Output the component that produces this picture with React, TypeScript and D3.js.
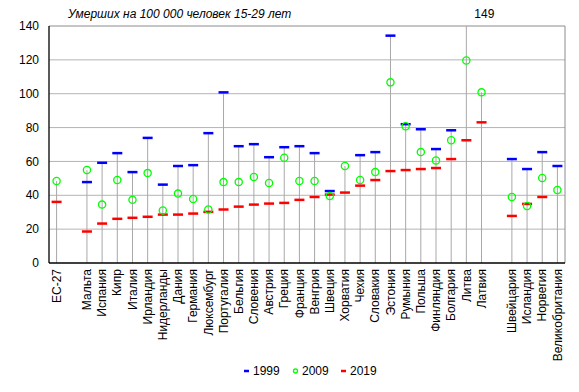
import React, { useRef, useEffect } from 'react';
import * as d3 from 'd3';

// категории (пустые слоты — разрывы между группами)
const categories = [
  'ЕС-27', '', 'Мальта', 'Испания', 'Кипр', 'Италия', 'Ирландия', 'Нидерланды', 'Дания',
  'Германия', 'Люксембург', 'Португалия', 'Бельгия', 'Словения', 'Австрия', 'Греция',
  'Франция', 'Венгрия', 'Швеция', 'Хорватия', 'Чехия', 'Словакия', 'Эстония', 'Румыния',
  'Польша', 'Финляндия', 'Болгария', 'Литва', 'Латвия', ' ', 'Швейцария', 'Исландия',
  'Норвегия', 'Великобритания',
];

const v1999 = [
  null, null, 47.8, 59.2, 64.9, 53.7, 73.9, 46.3, 57.3,
  57.8, 76.7, 100.8, 69.0, 70.2, 62.5, 68.4,
  69.0, 64.9, 42.5, null, 63.7, 65.5, 134.3, 82.0,
  79.0, 67.3, 78.4, 149, null, null, 61.4, 55.5,
  65.5, 57.3,
];

const v2009 = [
  48.4, null, 54.9, 34.5, 49.0, 37.3, 53.1, 31.0, 41.0,
  37.8, 31.6, 47.8, 47.8, 50.8, 47.3, 62.2,
  48.4, 48.4, 39.6, 57.3, 49.0, 53.7, 106.7, 80.8,
  65.5, 60.6, 72.5, 119.6, 100.8, null, 39.0, 33.7,
  50.2, 43.1,
];

const v2019 = [
  36.1, null, 18.6, 23.3, 26.1, 26.7, 27.3, 28.6, 28.6,
  29.2, 30.2, 31.6, 33.3, 34.5, 35.1, 35.5,
  37.3, 39.0, 40.4, 41.6, 45.7, 49.0, 54.3, 54.9,
  55.5, 56.1, 61.4, 72.5, 83.1, null, 27.8, 34.9,
  39.0, null,
];

const yTicks = [0, 20, 40, 60, 80, 100, 120, 140];

const font = 'Liberation Sans, Arial, sans-serif';

const App = () => {
  const svgRef = useRef(null);

  useEffect(() => {
    const svg = d3.select(svgRef.current);
    svg.selectAll('*').remove();

    const margin = { top: 26, right: 14, bottom: 129, left: 49 };
    const width = 579;
    const height = 392;

    const x = d3.scaleBand()
      .domain(categories)
      .range([margin.left, width - margin.right])
      .padding(0);

    const y = d3.scaleLinear()
      .domain([0, 140])
      .range([height - margin.bottom, margin.top]);

    const cx = (c) => x(c) + x.bandwidth() / 2;

    // сетка
    svg.append('g')
      .selectAll('line')
      .data(yTicks.slice(1, -1))
      .join('line')
      .attr('x1', margin.left)
      .attr('x2', width - margin.right)
      .attr('y1', d => y(d))
      .attr('y2', d => y(d))
      .attr('stroke', '#b4b4b4')
      .attr('stroke-width', 1);

    // рамка сверху и справа
    svg.append('path')
      .attr('d', `M${margin.left},${y(140)}H${width - margin.right}V${y(0)}`)
      .attr('fill', 'none')
      .attr('stroke', '#8c8c8c');

    const rows = categories.map((c, i) => ({
      c, a: v1999[i], b: v2009[i], r: v2019[i],
    })).filter(d => d.c.trim() !== '');

    // линии от максимума к оси
    svg.append('g')
      .selectAll('line')
      .data(rows)
      .join('line')
      .attr('x1', d => cx(d.c))
      .attr('x2', d => cx(d.c))
      .attr('y1', y(0))
      .attr('y2', d => y(Math.min(140, d3.max([d.a, d.b, d.r].filter(v => v != null)))))
      .attr('stroke', '#a8a8a8')
      .attr('stroke-width', 1);

    // оси
    svg.append('line')
      .attr('x1', margin.left).attr('x2', margin.left)
      .attr('y1', y(0)).attr('y2', y(140))
      .attr('stroke', '#000').attr('stroke-width', 1.3);
    svg.append('line')
      .attr('x1', margin.left).attr('x2', width - margin.right)
      .attr('y1', y(0)).attr('y2', y(0))
      .attr('stroke', '#000').attr('stroke-width', 1.3);

    svg.append('g')
      .selectAll('text')
      .data(yTicks)
      .join('text')
      .attr('x', 39)
      .attr('y', d => y(d))
      .attr('dy', '0.35em')
      .attr('text-anchor', 'end')
      .attr('font-family', font)
      .attr('font-size', 12)
      .text(d => d);

    // подписи стран
    svg.append('g')
      .selectAll('text')
      .data(rows)
      .join('text')
      .attr('transform', d => `translate(${cx(d.c)},${y(0) + 6}) rotate(-90)`)
      .attr('dy', '0.35em')
      .attr('text-anchor', 'end')
      .attr('font-family', font)
      .attr('font-size', 12)
      .text(d => d.c);

    const dash = (sel, key, color) => sel.append('g')
      .selectAll('line')
      .data(rows.filter(d => d[key] != null && d[key] <= 140))
      .join('line')
      .attr('x1', d => cx(d.c) - 5)
      .attr('x2', d => cx(d.c) + 5)
      .attr('y1', d => y(d[key]))
      .attr('y2', d => y(d[key]))
      .attr('stroke', color)
      .attr('stroke-width', 2.5);

    dash(svg, 'a', '#0000ff');
    dash(svg, 'r', '#ff0000');

    svg.append('g')
      .selectAll('circle')
      .data(rows.filter(d => d.b != null))
      .join('circle')
      .attr('cx', d => cx(d.c))
      .attr('cy', d => y(d.b))
      .attr('r', 3.6)
      .attr('fill', 'none')
      .attr('stroke', '#00ff00')
      .attr('stroke-width', 1.3);

    // значение за пределами шкалы
    const lit = rows.find(d => d.c === 'Литва');
    svg.append('text')
      .attr('x', cx(lit.c) + 8)
      .attr('y', 18)
      .attr('font-family', font)
      .attr('font-size', 12)
      .text(lit.a);

    svg.append('text')
      .attr('x', 68)
      .attr('y', 18)
      .attr('font-family', font)
      .attr('font-size', 12)
      .attr('font-style', 'italic')
      .text('Умерших на 100 000 человек 15-29 лет');

    // легенда
    const ly = 371;
    const legend = svg.append('g').attr('font-family', font).attr('font-size', 12);
    const items = [
      { label: '1999', color: '#0000ff', type: 'dash', x: 244 },
      { label: '2009', color: '#00ff00', type: 'circle', x: 293 },
      { label: '2019', color: '#ff0000', type: 'dash', x: 341 },
    ];
    items.forEach(it => {
      if (it.type === 'dash') {
        legend.append('line')
          .attr('x1', it.x).attr('x2', it.x + 5)
          .attr('y1', ly).attr('y2', ly)
          .attr('stroke', it.color).attr('stroke-width', 2.5);
      } else {
        legend.append('circle')
          .attr('cx', it.x + 2.5).attr('cy', ly).attr('r', 2)
          .attr('fill', 'none').attr('stroke', it.color).attr('stroke-width', 1.3);
      }
      legend.append('text')
        .attr('x', it.x + 9)
        .attr('y', ly)
        .attr('dy', '0.35em')
        .text(it.label);
    });
  }, []);

  return (
    <svg ref={svgRef} width={579} height={392}
      style={{ position: 'absolute', left: 0, top: 0, background: '#fff' }}></svg>
  );
};

export default App;
